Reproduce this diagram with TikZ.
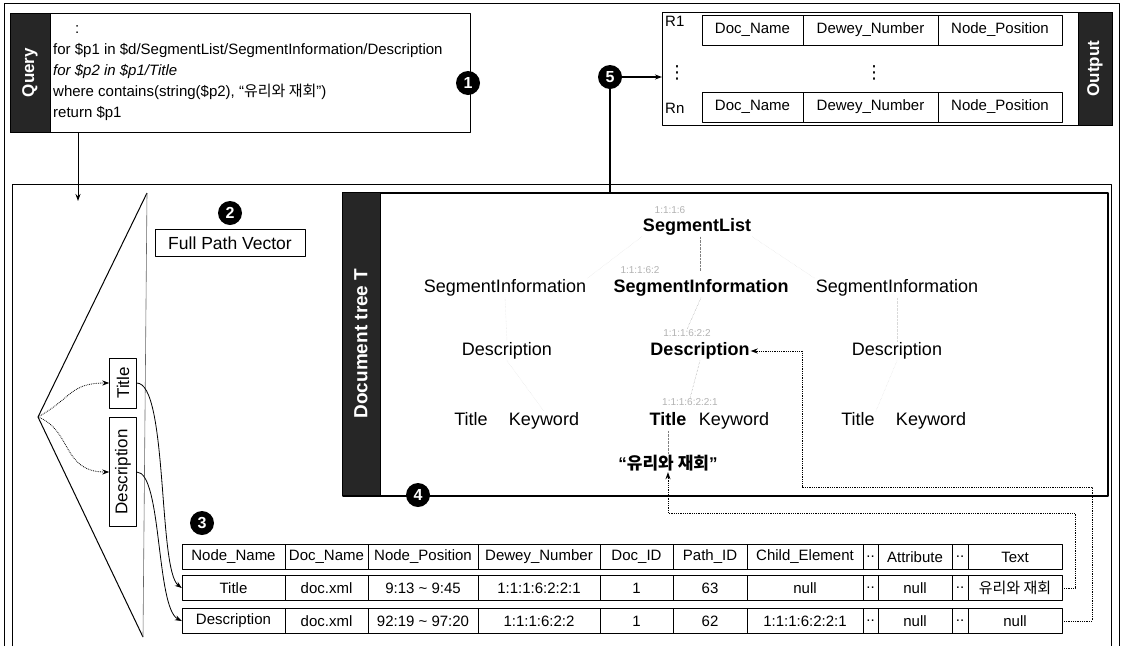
\documentclass[tikz,border=0pt]{standalone}
\usepackage{fontspec}
\setmainfont{Liberation Sans}
\newfontfamily\kor{Noto Sans CJK KR}
\newfontfamily\sym{DejaVu Sans}
\usetikzlibrary{arrows.meta}
\tikzset{
  strip/.style={fill=black!85, draw=black, text=white, inner sep=0,
    font=\fontsize{17}{17}\selectfont\bfseries},
  num/.style={circle, fill=black, text=white, minimum size=24pt, inner sep=0,
    font=\fontsize{16}{16}\selectfont\bfseries},
  cell/.style={draw, minimum height=25pt, inner sep=0, font=\fontsize{15}{15}\selectfont},
  ocell/.style={draw, minimum height=30pt, inner sep=0, font=\fontsize{15}{15}\selectfont},
  tnode/.style={inner sep=1pt, text height=13pt, text depth=4pt, font=\fontsize{18}{18}\selectfont},
  tbold/.style={tnode, font=\fontsize{18}{18}\selectfont\bfseries},
  dewey/.style={inner sep=0, text=black!30, font=\fontsize{10}{10}\selectfont},
  faint/.style={black!15, densely dotted},
  treeedge/.style={black!50, densely dotted},
  link/.style={densely dotted, line width=0.8pt},
  vbox/.style={draw, rotate=90, minimum height=27pt, inner sep=0, font=\fontsize{17}{17}\selectfont},
}
\begin{document}
\begin{tikzpicture}[x=1pt, y=-1pt, >={Stealth[length=7pt,width=5pt]}, line join=round]
\useasboundingbox (0,0) rectangle (1122,646);
% frames
\draw[line width=0.9] (4,646) |- (1119,3) -- (1119,646);
\draw[line width=0.9] (12,646) |- (1111,184) -- (1111,646);

% query
\node[draw, line width=1.4, minimum width=460, minimum height=119, anchor=north west, inner sep=0] (qbox) at (10,13) {};
\node[strip, rotate=90, minimum width=119, minimum height=40] (qlbl) at (30,72.5) {Query};
\node[anchor=north west, align=left, inner sep=0, font=\fontsize{15}{21}\selectfont] (qtext) at (53,25)
  {\hspace*{22pt}:\\
   for \$p1 in \$d/SegmentList/SegmentInformation/Description\\
   {\itshape for \$p2 in \$p1/Title}\\
   where contains(string(\$p2), “{\kor 유리와 재회}”)\\
   return \$p1};
\node[num] (n1) at (468,83) {1};
\coordinate (qend) at (78,201);
\draw[->, line width=1] (qend |- qbox.south) -- (qend);

% output
\node[draw, line width=1.4, minimum width=450, minimum height=113, anchor=north west, inner sep=0] (obox) at (662,12) {};
\node[strip, rotate=90, minimum width=113, minimum height=34] (olbl) at (1095,68.5) {Output};
\foreach \a/\b/\txt [count=\i] in {702/803/Doc\_Name, 803/938/Dewey\_Number, 938/1062/Node\_Position} {
  \node[ocell, minimum width={(\b-\a)*1pt}] (ra\i) at ({(\a+\b)/2},30) {\txt};
  \node[ocell, minimum width={(\b-\a)*1pt}] (rb\i) at ({(\a+\b)/2},107) {\txt};
}
\node[anchor=west, inner sep=0, font=\fontsize{15}{15}\selectfont] (r1) at (665,21) {R1};
\node[anchor=west, inner sep=0, font=\fontsize{15}{15}\selectfont] (rn) at (665,108) {Rn};
\node[inner sep=0, font=\sym\fontsize{18}{18}\selectfont] (vd1) at (677,73) {⋮};
\node[inner sep=0, font=\sym\fontsize{18}{18}\selectfont] (vd2) at (874,73) {⋮};

% document tree
\node[draw, line width=2, minimum width=765, minimum height=303, anchor=north west, inner sep=0] (dtree) at (342,192) {};
\node[strip, rotate=90, minimum width=303, minimum height=38, font=\fontsize{19}{19}\selectfont\bfseries] (dlbl) at (361,343.5) {Document tree T};
\node[num] (n5) at (610,77) {5};
\draw[->, line width=1.2] (n5) -- (n5 -| obox.west);
\draw[line width=1.2] (n5) -- (n5 |- dtree.north);

\node[tbold] (sl) at (697,227) {SegmentList};
\node[tnode] (si1) at (505,288) {SegmentInformation};
\node[tbold] (si2) at (701,288) {SegmentInformation};
\node[tnode] (si3) at (897,288) {SegmentInformation};
\node[tnode] (de1) at (507,351) {Description};
\node[tbold] (de2) at (700,351) {Description};
\node[tnode] (de3) at (897,351) {Description};
\node[tnode] (ti1) at (471,421) {Title};
\node[tnode] (kw1) at (544,421) {Keyword};
\node[tbold] (ti2) at (668,421) {Title};
\node[tnode] (kw2) at (734,421) {Keyword};
\node[tnode] (ti3) at (858,421) {Title};
\node[tnode] (kw3) at (931,421) {Keyword};
\node[inner sep=1pt, font=\fontsize{17}{17}\selectfont\bfseries] (txt) at (668,463) {“{\kor\bfseries 유리와 재회}”};

\node[dewey] (dw1) at (670,210) {1:1:1:6};
\node[dewey] (dw2) at (640,270) {1:1:1:6:2};
\node[dewey] (dw3) at (687,333) {1:1:1:6:2:2};
\node[dewey] (dw4) at (690,402) {1:1:1:6:2:2:1};

\draw[treeedge] (sl.south) ++(3,0) -- ++(0,34);
\draw[treeedge] (si2.south) ++(0,0) -- (dw3.north);
\draw[treeedge] (de2.south) -- (dw4.north);
\draw[treeedge] (ti2.south) -- (txt.north);
\draw[faint] (sl.south west) -- (si1.north east);
\draw[faint] (sl.south east) -- (si3.north west);
\draw[faint] (si1.south) -- (de1.north);
\draw[faint] (si3.south) -- (de3.north);
\draw[faint] (de1.south) -- (kw1.north);
\draw[faint] (de3.south) -- (ti3.north east);

\node[num] (n4) at (418,495) {4};

% full path vector
\node[num] (n2) at (230,213) {2};
\node[draw, minimum width=150, minimum height=27, inner sep=0, font=\fontsize{17.5}{17.5}\selectfont] (fpv) at (230,243) {Full Path Vector};
\coordinate (ap) at (38,417);
\coordinate (tp) at (147,193);
\coordinate (bt) at (143,637);
\draw[line width=1] (bt) -- (ap) -- (tp);
\draw[black!60, line width=0.6] (tp) -- (bt);
\node[vbox, minimum width=50] (vt) at (123,383) {Title};
\node[vbox, minimum width=109] (vd) at (123,472) {Description};
\draw[link, ->] (ap) .. controls (72,398) and (70,383) .. (vt.north);
\draw[link, ->] (ap) .. controls (72,430) and (62,472) .. (vd.north);

% table
\foreach \a/\b/\h/\t/\d [count=\i] in {
  182/285/Node\_Name/Title/Description,
  285/368/Doc\_Name/doc.xml/doc.xml,
  368/478/Node\_Position/9:13 \textasciitilde{} 9:45/92:19 \textasciitilde{} 97:20,
  478/600/Dewey\_Number/1:1:1:6:2:2:1/1:1:1:6:2:2,
  600/673/Doc\_ID/1/1,
  673/747/Path\_ID/63/62,
  747/863/Child\_Element/null/1:1:1:6:2:2:1,
  863/878/../../..,
  878/952/Attribute/null/null,
  952/968/../../..,
  968/1062/Text/{\kor 유리와 재회}/null} {
  \node[cell, minimum width={(\b-\a)*1pt}] (h\i) at ({(\a+\b)/2},557) {\h};
  \node[cell, minimum width={(\b-\a)*1pt}] (t\i) at ({(\a+\b)/2},588) {\t};
  \node[cell, minimum width={(\b-\a)*1pt}] (d\i) at ({(\a+\b)/2},621) {\d};
}
\node[num] (n3) at (202,523) {3};

\draw[->, line width=0.8] (vt.south) .. controls (168,383) and (158,570) .. (t1.west);
\draw[->, line width=0.8] (vd.south) .. controls (162,472) and (156,608) .. (d1.west);

% links back into the tree
\coordinate (ca) at (1075,513);
\coordinate (cb) at (1092,487);
\coordinate (cc) at (802,351);
\draw[link, ->] (t11.east) -| (ca) -| (txt.south);
\draw[link, ->] (d11.east) -| (cb) -| (cc) -- (de2.east);
\end{tikzpicture}
\end{document}
